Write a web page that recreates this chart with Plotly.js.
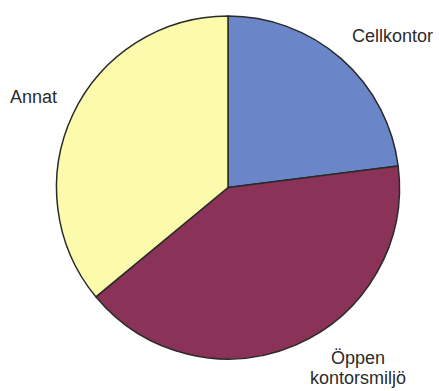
<!DOCTYPE html>
<html>
<head>
<meta charset="utf-8">
<script src="https://cdn.plot.ly/plotly-3.0.1.min.js"></script>
<style>html,body{margin:0;padding:0;background:#fff;}#chart{width:439px;height:391px;}</style>
</head>
<body>
<div id="chart"></div>
<script>
const labels = ["Cellkontor", "Öppen<br>kontorsmiljö", "Annat"];
const values = [23, 41, 36];
const colors = ["#6b86c8", "#8a3257", "#fbfbab"];

const W = 439, H = 391;
// label anchor positions in pixels (layout only)
const labelPos = [[392, 36], [358, 368], [33, 97]];

const annotations = [];
labels.forEach((lab, i) => {
  const lines = lab.split("<br>");
  lines.forEach((ln, j) => {
    const py = labelPos[i][1] + (j - (lines.length - 1) / 2) * 20;
    annotations.push({
      text: ln, xref: "paper", yref: "paper",
      x: labelPos[i][0] / W, y: 1 - py / H,
      xanchor: "center", yanchor: "middle", showarrow: false,
      font: {family: "Liberation Sans, Arial, sans-serif", size: 18, color: "#2b2b2b"}
    });
  });
});

Plotly.newPlot("chart", [{
  type: "pie",
  labels: labels,
  values: values,
  sort: false,
  direction: "clockwise",
  rotation: 0,
  textinfo: "none",
  hoverinfo: "label+percent",
  marker: {colors: colors, line: {color: "#2a2a2a", width: 1.5}},
  domain: {x: [56 / W, 400 / W], y: [1 - 359 / H, 1 - 16 / H]}
}], {
  width: W, height: H,
  margin: {l: 0, r: 0, t: 0, b: 0},
  showlegend: false,
  paper_bgcolor: "#ffffff",
  annotations: annotations
}, {staticPlot: true});
</script>
</body>
</html>
